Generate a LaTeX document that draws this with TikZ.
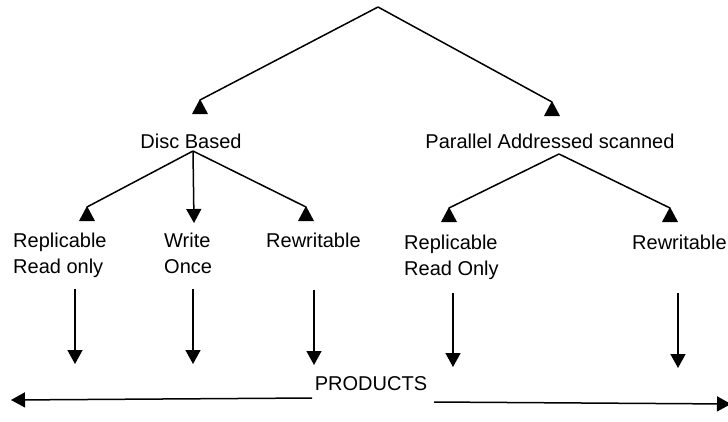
\documentclass[tikz,border=0pt]{standalone}
\usepackage{fontspec}
\setmainfont{Liberation Sans}
\usetikzlibrary{arrows.meta}
\begin{document}
\begin{tikzpicture}[x=1pt,y=-1pt,
  lbl/.style={font=\fontsize{20}{26}\selectfont, inner sep=0pt, align=left},
  link/.style={line width=1.5pt},
  conn/.style={line width=1.5pt, -{Triangle[length=14pt,width=15pt]}},
  uptri/.pic={\fill (0,-1) -- (-8,14) -- (8,14) -- cycle;}]
\useasboundingbox (0,0) rectangle (728,421);
% top apex and first level
\coordinate (top) at (378,7);
\node[lbl, anchor=base] (db) at (191,148) {Disc Based};
\node[lbl, anchor=base] (pa) at (550,148) {Parallel Addressed scanned};
\coordinate (dbin) at (200,100);
\coordinate (pain) at (552,102);
\draw[link] (top) -- (dbin) pic {uptri};
\draw[link] (top) -- (pain) pic {uptri};
% second level
\coordinate (dbout) at (193,151);
\coordinate (paout) at (559,154);
\node[lbl, anchor=west] (r1) at (13,254.8) {\strut Replicable\\\strut Read only};
\node[lbl, anchor=west] (w1) at (164,254.8) {\strut Write\\\strut Once};
\node[lbl, anchor=base west] (rw1) at (266,247) {Rewritable};
\node[lbl, anchor=west] (r2) at (404,256.8) {\strut Replicable\\\strut Read Only};
\node[lbl, anchor=base west] (rw2) at (632,249) {Rewritable};
\coordinate (r1in) at (87,207);
\coordinate (w1in) at (194,223);
\coordinate (rw1in) at (306,207);
\coordinate (r2in) at (449,208);
\coordinate (rw2in) at (670,208);
\draw[link] (dbout) -- (r1in) pic {uptri};
\draw[conn] (dbout) -- (w1in);
\draw[link] (dbout) -- (rw1in) pic {uptri};
\draw[link] (paout) -- (r2in) pic {uptri};
\draw[link] (paout) -- (rw2in) pic {uptri};
% down arrows to products
\node[lbl, anchor=base] (prod) at (371,390) {PRODUCTS};
\foreach \n/\x/\ya/\yb in {a/75/289/364, b/193/289/364, c/314/290/365, d/453/293/367, e/678/293/368}{
  \coordinate (\n s) at (\x,\ya);
  \coordinate (\n e) at (\x,\yb);
  \draw[conn] (\n s) -- (\n e);
}
% bottom line
\coordinate (bl) at (312,398);
\coordinate (blend) at (11,400);
\coordinate (br) at (434,402);
\coordinate (brend) at (731,404);
\draw[conn] (bl) -- (blend);
\draw[conn] (br) -- (brend);
\end{tikzpicture}
\end{document}
